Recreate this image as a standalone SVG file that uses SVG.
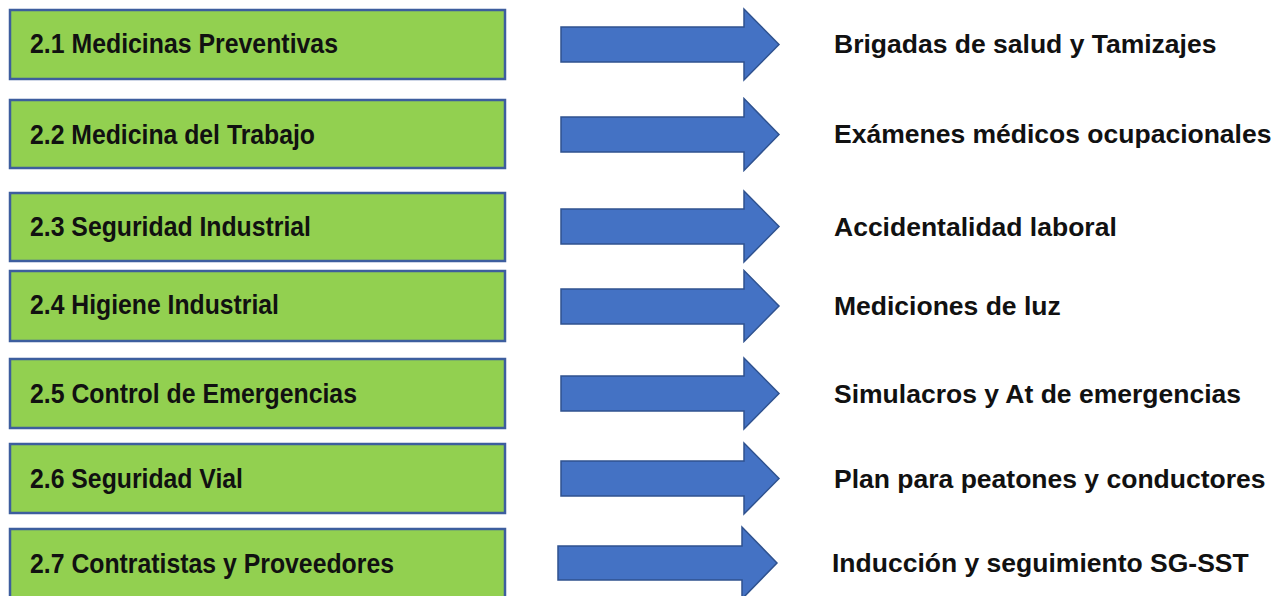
<svg xmlns="http://www.w3.org/2000/svg" width="1283" height="596" viewBox="0 0 1283 596">
<style>
.box{fill:#92d050;stroke:#3d5e9e;stroke-width:2.5}
.lbl{font-family:"Liberation Sans",Arial,sans-serif;font-weight:bold;font-size:28px;fill:#111}
.out{font-family:"Liberation Sans",Arial,sans-serif;font-weight:bold;font-size:26.5px;fill:#111}
.arr{fill:#4472c4;stroke:#2f528f;stroke-width:1.5;stroke-linejoin:miter}
</style>
<rect width="1283" height="596" fill="#fff"/>
<g id="n1"><rect class="box" x="10" y="10" width="495" height="69"/><text class="lbl" x="30" y="53" textLength="308" lengthAdjust="spacingAndGlyphs">2.1 Medicinas Preventivas</text></g>
<g id="n2"><rect class="box" x="10" y="100" width="495" height="68"/><text class="lbl" x="30" y="144" textLength="285" lengthAdjust="spacingAndGlyphs">2.2 Medicina del Trabajo</text></g>
<g id="n3"><rect class="box" x="10" y="193" width="495" height="68"/><text class="lbl" x="30" y="236" textLength="281" lengthAdjust="spacingAndGlyphs">2.3 Seguridad Industrial</text></g>
<g id="n4"><rect class="box" x="10" y="271" width="495" height="70"/><text class="lbl" x="30" y="314" textLength="249" lengthAdjust="spacingAndGlyphs">2.4 Higiene Industrial</text></g>
<g id="n5"><rect class="box" x="10" y="359" width="495" height="69"/><text class="lbl" x="30" y="403" textLength="327" lengthAdjust="spacingAndGlyphs">2.5 Control de Emergencias</text></g>
<g id="n6"><rect class="box" x="10" y="444" width="495" height="69"/><text class="lbl" x="30" y="488" textLength="213" lengthAdjust="spacingAndGlyphs">2.6 Seguridad Vial</text></g>
<g id="n7"><rect class="box" x="10" y="529" width="495" height="69"/><text class="lbl" x="30" y="573" textLength="364" lengthAdjust="spacingAndGlyphs">2.7 Contratistas y Proveedores</text></g>
<g id="connectors">
<polygon class="arr" points="561,27 744,27 744,9 779,44.5 744,80 744,62 561,62"/>
<polygon class="arr" points="561,117 744,117 744,98.5 779,134.5 744,170.5 744,152 561,152"/>
<polygon class="arr" points="561,209 744,209 744,191 779,226.5 744,262 744,244 561,244"/>
<polygon class="arr" points="561,289 744,289 744,270.5 779,306 744,341.5 744,324 561,324"/>
<polygon class="arr" points="561,376 744,376 744,358 779,393.5 744,429 744,411 561,411"/>
<polygon class="arr" points="561,461 744,461 744,443 779,478.5 744,514 744,496 561,496"/>
<polygon class="arr" points="558,546 742,546 742,527 777,563 742,599 742,580 558,580"/>
</g>
<g id="o1"><text class="out" x="834" y="53">Brigadas de salud y Tamizajes</text></g>
<g id="o2"><text class="out" x="834" y="143">Exámenes médicos ocupacionales</text></g>
<g id="o3"><text class="out" x="834" y="236">Accidentalidad laboral</text></g>
<g id="o4"><text class="out" x="834" y="315">Mediciones de luz</text></g>
<g id="o5"><text class="out" x="834" y="403">Simulacros y At de emergencias</text></g>
<g id="o6"><text class="out" x="834" y="488">Plan para peatones y conductores</text></g>
<g id="o7"><text class="out" x="832" y="572">Inducción y seguimiento SG-SST</text></g>
</svg>
